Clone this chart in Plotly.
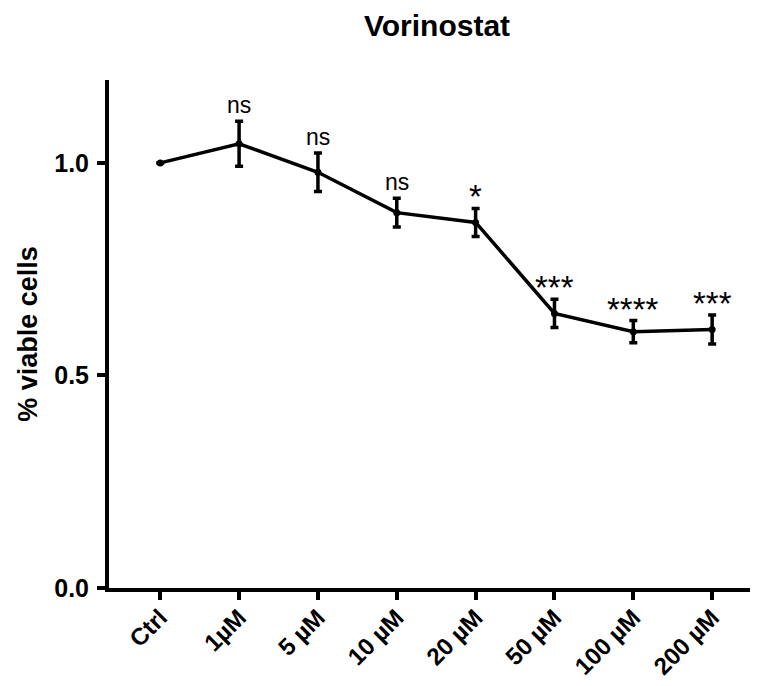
import plotly.graph_objects as go

categories = ["Ctrl", "1µM", "5 µM", "10 µM", "20 µM", "50 µM", "100 µM", "200 µM"]
means = [1.0, 1.045, 0.978, 0.883, 0.860, 0.646, 0.603, 0.608]
errors = [0.0, 0.053, 0.045, 0.034, 0.033, 0.033, 0.026, 0.034]
labels = ["", "ns", "ns", "ns", "*", "***", "****", "***"]
yticks = [0.0, 0.5, 1.0]
ytick_text = ["0.0", "0.5", "1.0"]

FONT = "Arial, Liberation Sans, sans-serif"
xpos = list(range(len(categories)))

fig = go.Figure()
fig.add_trace(go.Scatter(
    x=xpos, y=means,
    mode="lines+markers",
    line=dict(color="black", width=3.5),
    marker=dict(color="black", size=7),
    error_y=dict(type="data", array=errors, visible=True, color="black", thickness=3.5, width=4),
    showlegend=False,
    hoverinfo="skip",
))

for xi, m, e, lab in zip(xpos, means, errors, labels):
    if not lab:
        continue
    if lab.startswith("*"):
        fig.add_annotation(x=xi, y=m + e, text=lab, showarrow=False, yanchor="bottom", yshift=-9,
                           font=dict(family=FONT, size=33, color="black"))
    else:
        fig.add_annotation(x=xi, y=m + e, text=lab, showarrow=False, yanchor="bottom", yshift=1,
                           font=dict(family=FONT, size=23, color="black"))

fig.update_layout(
    width=760, height=686,
    margin=dict(l=109, r=10, t=80, b=98, autoexpand=False),
    paper_bgcolor="white", plot_bgcolor="white",
    title=dict(text="<b>Vorinostat</b>", x=437 / 760, xanchor="center", y=1 - 25 / 686, yanchor="middle",
               font=dict(family=FONT, size=30, color="black")),
    font=dict(family=FONT, color="black"),
)
fig.update_xaxes(
    range=[-0.65, 7.48], tickmode="array", tickvals=xpos, automargin=False,
    ticktext=["<b>%s</b>" % c for c in categories], tickangle=-45,
    tickfont=dict(family=FONT, size=24, color="black"),
    ticklabelstandoff=-6,
    showline=True, linewidth=4, linecolor="black", showgrid=False, zeroline=False,
    ticks="outside", ticklen=8, tickwidth=4, tickcolor="black",
)
fig.update_yaxes(
    range=[0, 1.195], tickmode="array", tickvals=yticks, automargin=False,
    ticktext=["<b>%s</b>" % t for t in ytick_text],
    tickfont=dict(family=FONT, size=25, color="black"),
    ticklabelstandoff=3,
    title=dict(text="<b>% viable cells</b>", font=dict(family=FONT, size=27, color="black"), standoff=10),
    showline=True, linewidth=4, linecolor="black", showgrid=False, zeroline=False,
    ticks="outside", ticklen=8, tickwidth=4, tickcolor="black",
)

fig.write_html("out.html", config={"displayModeBar": False},
               post_script="document.body.style.margin='0';document.body.style.overflow='hidden';")
